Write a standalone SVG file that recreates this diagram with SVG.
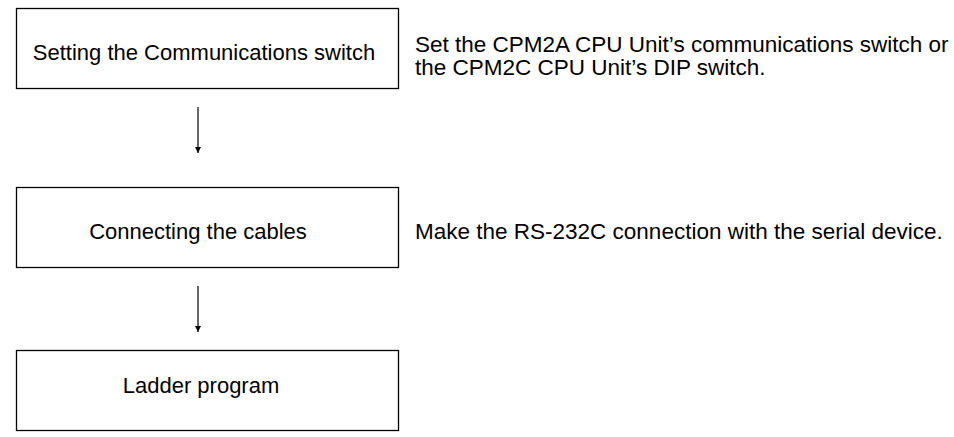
<svg xmlns="http://www.w3.org/2000/svg" width="954" height="437" viewBox="0 0 954 437">
<style>
.box{fill:#fff;stroke:#000;stroke-width:1.3}
.t{font-family:"Liberation Sans",Arial,sans-serif;font-size:22px;fill:#000}
.r{font-size:22.5px}
.c{text-anchor:middle}
.ln{stroke:#000;stroke-width:1.2;fill:none}
</style>
<defs>
<marker id="ah" viewBox="0 0 10 10" refX="10" refY="5" markerWidth="10" markerHeight="6" markerUnits="userSpaceOnUse" orient="auto">
<path d="M0,0 L10,5 L0,10 z" fill="#000"/>
</marker>
</defs>
<rect width="954" height="437" fill="#fff"/>
<g id="n1">
<rect class="box" x="16.5" y="8.5" width="382" height="80"/>
<text class="t c" x="204" y="60">Setting the Communications switch</text>
</g>
<g id="d1">
<text class="t r" x="415" y="52">Set the CPM2A CPU Unit’s communications switch or</text>
<text class="t r" x="415" y="75">the CPM2C CPU Unit’s DIP switch.</text>
</g>
<g id="n2">
<rect class="box" x="16.5" y="187.5" width="382" height="80"/>
<text class="t c" x="198" y="239">Connecting the cables</text>
</g>
<g id="d2">
<text class="t r" x="415" y="239">Make the RS-232C connection with the serial device.</text>
</g>
<g id="n3">
<rect class="box" x="16.5" y="350.5" width="382" height="80"/>
<text class="t c" x="201" y="393">Ladder program</text>
</g>
<g id="connectors">
<line class="ln" x1="198" y1="107" x2="198" y2="153" marker-end="url(#ah)"/>
<line class="ln" x1="198" y1="286" x2="198" y2="332" marker-end="url(#ah)"/>
</g>
</svg>
